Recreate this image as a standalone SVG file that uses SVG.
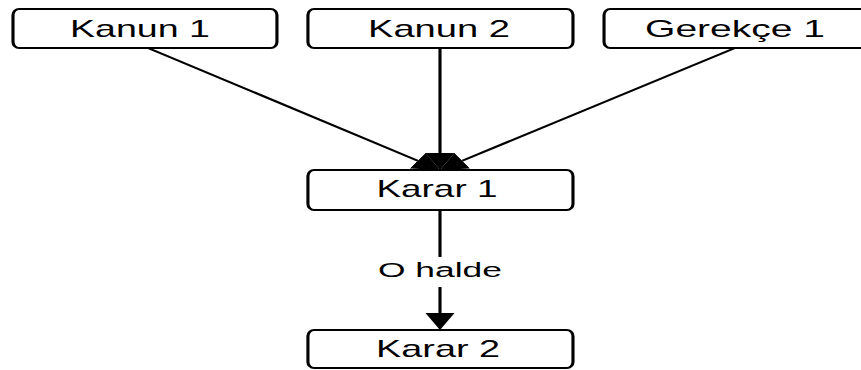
<svg xmlns="http://www.w3.org/2000/svg" width="861" height="370" viewBox="0 0 861 370">
<style>
.box{fill:#ffffff;stroke:#000000;stroke-width:2}
.t{font-family:"Liberation Sans",Arial,sans-serif;font-size:24px;fill:#000000;text-anchor:middle}
.lbl{font-family:"Liberation Sans",Arial,sans-serif;font-size:20px;fill:#000000;text-anchor:middle}
.edge{fill:none;stroke:#000000;stroke-width:2}
</style>
<defs>
<marker id="arr" markerUnits="userSpaceOnUse" markerWidth="17" markerHeight="19" viewBox="0 0 17 18.6" refX="0" refY="9.3" orient="auto">
<path d="M0,0 L17,9.3 L0,18.6 z" fill="#000000"/>
</marker>
</defs>
<rect width="861" height="370" fill="#ffffff"/>
<g transform="scale(1.56,1)">
<g id="connectors">
<path class="edge" d="M94.9,48 L267.81,160.72" marker-end="url(#arr)"/>
<path class="edge" d="M282.05,48 L282.05,153" marker-end="url(#arr)"/>
<path class="edge" d="M471.15,48 L296.34,160.78" marker-end="url(#arr)"/>
<path class="edge" d="M282.05,210 L282.05,313" marker-end="url(#arr)"/>
<rect x="241" y="257" width="82" height="30" fill="#ffffff"/>
<text class="lbl" x="282.05" y="277" textLength="79.5" lengthAdjust="spacingAndGlyphs">O halde</text>
</g>
<g id="kanun1">
<rect class="box" x="8.33" y="9" width="169.2" height="39" rx="4" ry="6"/>
<text class="t" x="89.7" y="37" textLength="89.7" lengthAdjust="spacingAndGlyphs">Kanun 1</text>
</g>
<g id="kanun2">
<rect class="box" x="197.4" y="9" width="169.9" height="39" rx="4" ry="6"/>
<text class="t" x="281.4" y="37" textLength="91" lengthAdjust="spacingAndGlyphs">Kanun 2</text>
</g>
<g id="gerekce1">
<rect class="box" x="387.2" y="9" width="169.9" height="39" rx="4" ry="6"/>
<text class="t" x="471.2" y="37" textLength="115.4" lengthAdjust="spacingAndGlyphs">Gerekçe 1</text>
</g>
<g id="karar1">
<rect class="box" x="197.4" y="170" width="169.9" height="40" rx="4" ry="6"/>
<text class="t" x="280.1" y="197" textLength="77.6" lengthAdjust="spacingAndGlyphs">Karar 1</text>
</g>
<g id="karar2">
<rect class="box" x="197.4" y="330" width="169.9" height="38" rx="4" ry="6"/>
<text class="t" x="280.8" y="357" textLength="79.5" lengthAdjust="spacingAndGlyphs">Karar 2</text>
</g>
</g>
</svg>
